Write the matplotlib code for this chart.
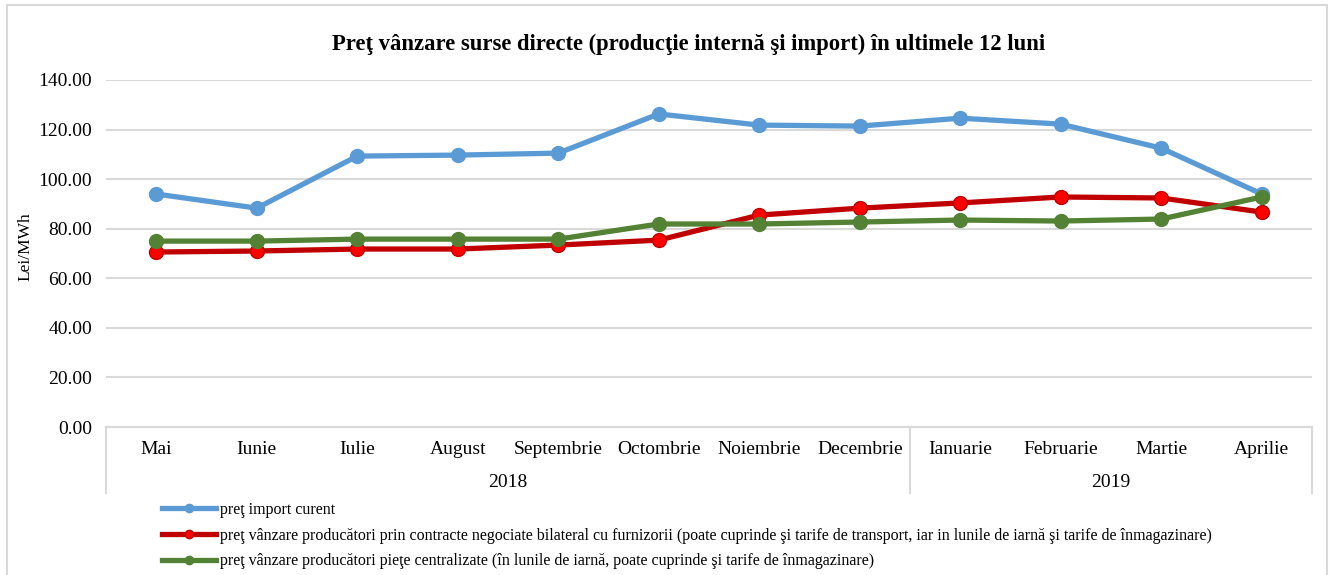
import matplotlib.pyplot as plt
from matplotlib.lines import Line2D
from matplotlib.patches import Rectangle

luni = ['Mai', 'Iunie', 'Iulie', 'August', 'Septembrie', 'Octombrie',
        'Noiembrie', 'Decembrie', 'Ianuarie', 'Februarie', 'Martie', 'Aprilie']
ani = ['2018', '2019']
luni_pe_an = [8, 4]

import_curent = [94.0, 88.3, 109.3, 109.7, 110.5, 126.3,
                 121.8, 121.4, 124.6, 122.2, 112.5, 94.0]
bilateral = [70.6, 71.0, 71.8, 71.8, 73.4, 75.4,
             85.5, 88.3, 90.4, 92.8, 92.4, 86.7]
centralizate = [75.0, 75.0, 75.8, 75.8, 75.8, 81.9,
                81.9, 82.7, 83.5, 83.1, 83.9, 92.8]

etichete = [
    'preţ import curent',
    'preţ vânzare producători prin contracte negociate bilateral cu furnizorii '
    '(poate cuprinde şi tarife de transport, iar in lunile de iarnă şi tarife de înmagazinare)',
    'preţ vânzare producători pieţe centralizate (în lunile de iarnă, poate cuprinde şi tarife de înmagazinare)',
]

plt.rcParams['font.family'] = ['Liberation Serif', 'DejaVu Serif']

fig = plt.figure(figsize=(13.31, 5.75), dpi=100)
ax = fig.add_axes([106 / 1331, 1 - 427 / 575, (1312 - 106) / 1331, (427 - 80) / 575])

# chenarul exterior
fig.patches.append(Rectangle((7 / 1331, -0.01), (1327 - 7) / 1331, (575 - 5) / 575 + 0.01,
                             transform=fig.transFigure, fill=False,
                             edgecolor='#D9D9D9', linewidth=1.5))

x = list(range(len(luni)))
ax.plot(x, import_curent, color='#5B9BD5', lw=3.8, marker='o', ms=10,
        mfc='#5B9BD5', mec='#5B9BD5', zorder=3)
ax.plot(x, bilateral, color='#C00000', lw=3.8, marker='o', ms=10,
        mfc='#FF0000', mec='#C00000', mew=1, zorder=4)
ax.plot(x, centralizate, color='#548235', lw=3.8, marker='o', ms=10,
        mfc='#548235', mec='#548235', zorder=5)

ax.set_xlim(-0.5, len(luni) - 0.5)
ax.set_ylim(0, 140)
ax.set_yticks(range(0, 141, 20))
ax.set_yticklabels([f'{v:.2f}' for v in range(0, 141, 20)], fontsize=14)
ax.yaxis.grid(True, color='#D9D9D9', lw=1.5)
ax.set_axisbelow(True)
ax.tick_params(axis='y', length=0, pad=10)
ax.set_xticks(x)
ax.set_xticklabels(luni, fontsize=14)
ax.tick_params(axis='x', length=0, pad=10)
for s in ['left', 'right', 'top']:
    ax.spines[s].set_visible(False)
ax.spines['bottom'].set_color('#D9D9D9')
ax.spines['bottom'].set_linewidth(1.5)

fig.text(25 / 1331, 1 - 247 / 575, 'Lei/MWh', rotation=90,
         ha='center', va='center', fontsize=12.5)

# axa de categorii pe doua niveluri
trans = ax.get_xaxis_transform()
granite = [-0.5]
for n in luni_pe_an:
    granite.append(granite[-1] + n)
for g in granite:
    ax.plot([g, g], [0, -0.19], transform=trans, color='#D9D9D9', lw=1.5, clip_on=False)
for i, an in enumerate(ani):
    mij = (granite[i] + granite[i + 1]) / 2
    ax.text(mij, -0.16, an, transform=trans, ha='center', va='center', fontsize=14)

fig.text(689 / 1331, 1 - 44 / 575,
         'Preţ vânzare surse directe (producţie internă şi import) în ultimele 12 luni',
         ha='center', va='center', fontsize=16.3, fontweight='bold')

handles = [
    Line2D([], [], color='#5B9BD5', lw=3.8, marker='o', ms=6, mfc='#5B9BD5', mec='#5B9BD5'),
    Line2D([], [], color='#C00000', lw=3.8, marker='o', ms=6, mfc='#FF0000', mec='#C00000'),
    Line2D([], [], color='#548235', lw=3.8, marker='o', ms=6, mfc='#548235', mec='#548235'),
]
fig.legend(handles, etichete, loc='upper left', bbox_to_anchor=(162 / 1331, 1 - 502 / 575),
           frameon=False, fontsize=11.5, handlelength=3.4, handletextpad=0.2,
           labelspacing=0.6, borderaxespad=0, borderpad=0)

fig.savefig('out.png', dpi=100)
